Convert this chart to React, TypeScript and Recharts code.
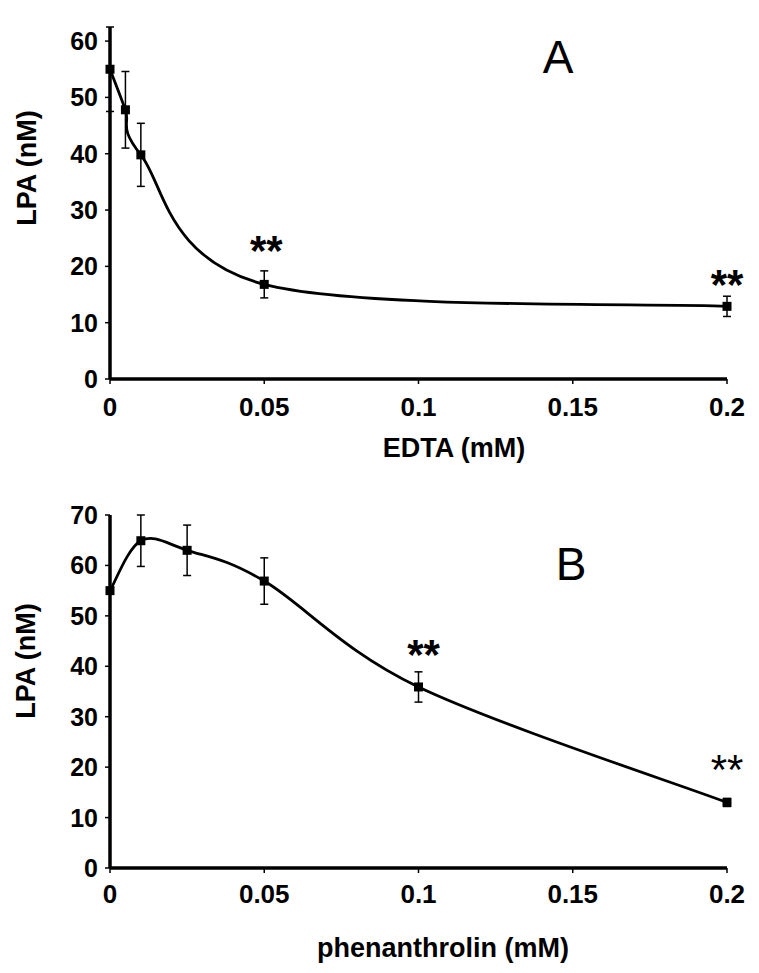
import React from 'react';
import { LineChart, Line, XAxis, YAxis, ErrorBar, ReferenceDot } from 'recharts';

// ---- Data ----
const edtaX = [0, 0.005, 0.01, 0.05, 0.2];
const edtaLPA = [55, 47.8, 39.8, 16.8, 12.9];
const edtaErr = [7.5, 6.8, 5.6, 2.4, 1.8];

const phenX = [0, 0.01, 0.025, 0.05, 0.1, 0.2];
const phenLPA = [55, 64.9, 63.0, 56.9, 35.9, 13.0];
const phenErr = [0.5, 5.1, 5.0, 4.6, 3.0, 0.8];

const xTicks = [0, 0.05, 0.1, 0.15, 0.2];
const yTicksA = [0, 10, 20, 30, 40, 50, 60];
const yTicksB = [0, 10, 20, 30, 40, 50, 60, 70];

// significance marks (x, y in data units)
const sigA = [
  { x: 0.05, y: 24.5, text: '**' },
  { x: 0.2, y: 18.6, text: '**' },
];
const sigB = [
  { x: 0.1, y: 44.2, text: '**' },
  { x: 0.2, y: 21.4, text: '**' },
];

const dataA = edtaX.map((x, i) => ({ x, y: edtaLPA[i], err: edtaErr[i] }));
const dataB = phenX.map((x, i) => ({ x, y: phenLPA[i], err: phenErr[i] }));

// Excel-like smoothed line (uniform Catmull-Rom as cubic Bezier)
const excelSmooth: any = (context: any) => {
  let pts: number[][] = [];
  return {
    areaStart() {},
    areaEnd() {},
    lineStart() {
      pts = [];
    },
    point(x: number, y: number) {
      pts.push([+x, +y]);
    },
    lineEnd() {
      const n = pts.length;
      if (!n) return;
      context.moveTo(pts[0][0], pts[0][1]);
      for (let i = 0; i < n - 1; i++) {
        const p0 = pts[Math.max(0, i - 1)];
        const p1 = pts[i];
        const p2 = pts[i + 1];
        const p3 = pts[Math.min(n - 1, i + 2)];
        context.bezierCurveTo(
          p1[0] + (p2[0] - p0[0]) / 6,
          p1[1] + (p2[1] - p0[1]) / 6,
          p2[0] - (p3[0] - p1[0]) / 6,
          p2[1] - (p3[1] - p1[1]) / 6,
          p2[0],
          p2[1]
        );
      }
    },
  };
};

const FONT = '"Liberation Sans", Arial, Helvetica, sans-serif';

const squareDot = (p: any) => (
  <rect key={`d-${p.index}`} x={p.cx - 4.5} y={p.cy - 4.5} width={9} height={9} fill="#000" />
);

const XTick = (p: any) => (
  <text
    x={p.x}
    y={p.y}
    dy="0.71em"
    textAnchor="middle"
    fill="#000"
    fontSize={26}
    fontWeight="bold"
    fontFamily={FONT}
  >
    {p.payload.value}
  </text>
);

const YTick = (p: any) => (
  <text
    x={p.x}
    y={p.y}
    dy="0.36em"
    textAnchor="end"
    fill="#000"
    fontSize={25}
    fontWeight="bold"
    fontFamily={FONT}
  >
    {p.payload.value}
  </text>
);

const starLabel = (text: string, weight: string, dx: number) => (props: any) => {
  const vb = props.viewBox || {};
  const cx = (vb.x ?? 0) + (vb.width ?? 0) / 2 + dx;
  const cy = (vb.y ?? 0) + (vb.height ?? 0) / 2;
  return (
    <text
      x={cx}
      y={cy}
      dy="0.58em"
      textAnchor="middle"
      fill="#000"
      fontSize={42}
      fontWeight={weight}
      fontFamily={FONT}
    >
      {text}
    </text>
  );
};

const axisLine = { stroke: '#000', strokeWidth: 3.5 };
const tickLine = { stroke: '#000', strokeWidth: 1.5 };

export default function App() {
  const starWeightsA = ['bold', 'bold'];
  const starWeightsB = ['bold', 'normal'];
  const starDxA = [2, 0];
  const starDxB = [5, 0];
  return (
    <div
      style={{
        position: 'absolute',
        left: 0,
        top: 0,
        width: 759,
        height: 973,
        background: '#fff',
        fontFamily: FONT,
      }}
    >
      <div style={{ position: 'absolute', left: 0, top: 0 }}>
        <LineChart width={759} height={470} data={dataA} margin={{ top: 27, right: 32, left: 0, bottom: 0 }}>
          <XAxis
            dataKey="x"
            type="number"
            domain={[0, 0.2]}
            ticks={xTicks}
            interval={0}
            height={91}
            axisLine={axisLine}
            tickLine={tickLine}
            tickSize={5}
            tickMargin={14}
            tick={XTick}
          />
          <YAxis
            type="number"
            domain={[0, 60]}
            ticks={yTicksA}
            interval={0}
            width={110}
            axisLine={axisLine}
            tickLine={tickLine}
            tickSize={5}
            tickMargin={7}
            tick={YTick}
          />
          <Line
            dataKey="y"
            type={excelSmooth}
            stroke="#000"
            strokeWidth={2.8}
            dot={squareDot}
            activeDot={false}
            isAnimationActive={false}
          >
            <ErrorBar dataKey="err" width={4} stroke="#000" strokeWidth={1.5} direction="y" isAnimationActive={false} />
          </Line>
          {sigA.map((s, i) => (
            <ReferenceDot
              key={`sa-${i}`}
              x={s.x}
              y={s.y}
              r={0}
              fill="none"
              stroke="none"
              label={starLabel(s.text, starWeightsA[i], starDxA[i])}
            />
          ))}
        </LineChart>
      </div>

      <div style={{ position: 'absolute', left: 0, top: 470 }}>
        <LineChart width={759} height={503} data={dataB} margin={{ top: 45, right: 32, left: 0, bottom: 0 }}>
          <XAxis
            dataKey="x"
            type="number"
            domain={[0, 0.2]}
            ticks={xTicks}
            interval={0}
            height={105}
            axisLine={axisLine}
            tickLine={tickLine}
            tickSize={5}
            tickMargin={12}
            tick={XTick}
          />
          <YAxis
            type="number"
            domain={[0, 70]}
            ticks={yTicksB}
            interval={0}
            width={110}
            axisLine={axisLine}
            tickLine={tickLine}
            tickSize={5}
            tickMargin={7}
            tick={YTick}
          />
          <Line
            dataKey="y"
            type={excelSmooth}
            stroke="#000"
            strokeWidth={2.8}
            dot={squareDot}
            activeDot={false}
            isAnimationActive={false}
          >
            <ErrorBar dataKey="err" width={4} stroke="#000" strokeWidth={1.5} direction="y" isAnimationActive={false} />
          </Line>
          {sigB.map((s, i) => (
            <ReferenceDot
              key={`sb-${i}`}
              x={s.x}
              y={s.y}
              r={0}
              fill="none"
              stroke="none"
              label={starLabel(s.text, starWeightsB[i], starDxB[i])}
            />
          ))}
        </LineChart>
      </div>

      {/* titles and panel letters */}
      <svg
        width={759}
        height={973}
        style={{ position: 'absolute', left: 0, top: 0, pointerEvents: 'none' }}
        fontFamily={FONT}
      >
        <text x={558} y={73} fontSize={46} textAnchor="middle" fill="#000">
          A
        </text>
        <text x={571} y={580} fontSize={46} textAnchor="middle" fill="#000">
          B
        </text>
        <text x={454} y={457} fontSize={27} fontWeight="bold" textAnchor="middle" fill="#000">
          EDTA (mM)
        </text>
        <text x={443} y={957} fontSize={27} fontWeight="bold" textAnchor="middle" fill="#000">
          phenanthrolin (mM)
        </text>
        <text
          x={36}
          y={168}
          transform="rotate(-90 36 168)"
          fontSize={27}
          fontWeight="bold"
          textAnchor="middle"
          fill="#000"
        >
          LPA (nM)
        </text>
        <text
          x={35}
          y={661}
          transform="rotate(-90 35 661)"
          fontSize={27}
          fontWeight="bold"
          textAnchor="middle"
          fill="#000"
        >
          LPA (nM)
        </text>
      </svg>
    </div>
  );
}
